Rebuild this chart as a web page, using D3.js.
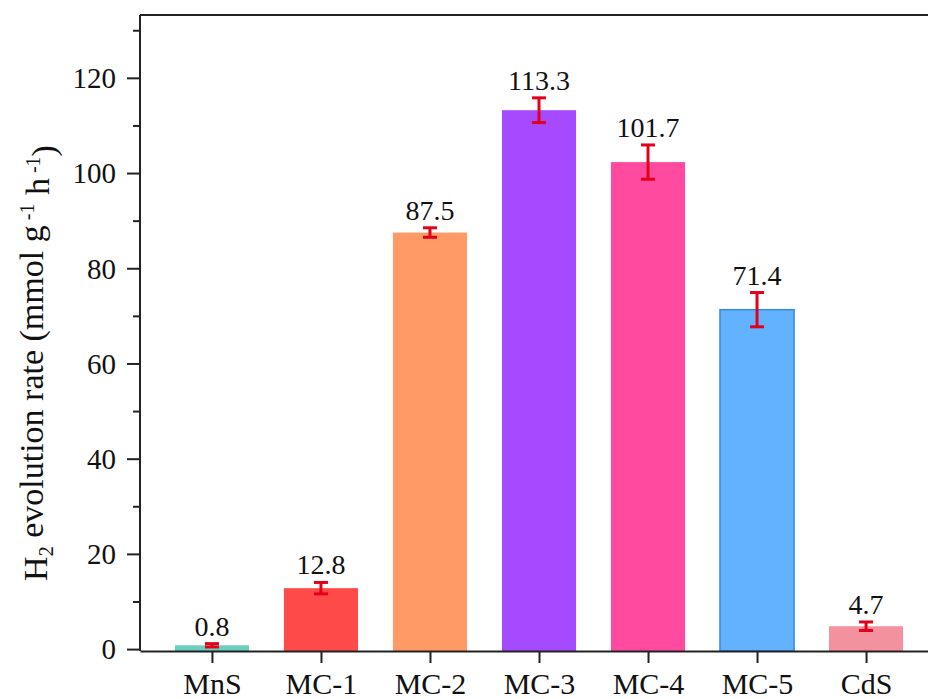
<!DOCTYPE html>
<html>
<head>
<meta charset="utf-8">
<script src="https://cdn.jsdelivr.net/npm/d3@7"></script>
<style>
    body { margin: 0; background: #fff; }
    svg text { font-family: "Liberation Serif", "Times New Roman", serif; fill: #111; }
</style>
</head>
<body>
<div id="chart"></div>
<script>
// data
const samples = ["MnS", "MC-1", "MC-2", "MC-3", "MC-4", "MC-5", "CdS"];
const rates = [0.8, 12.8, 87.5, 113.2, 102.3, 71.3, 4.8];
const rateLabels = ["0.8", "12.8", "87.5", "113.3", "101.7", "71.4", "4.7"];
const errors = [0.35, 1.2, 1.0, 2.6, 3.6, 3.6, 0.9];
const barColors = ["#6CCFBE", "#FF4A4A", "#FF9A66", "#A64AFF", "#FF4A9F", "#62B2FF", "#F4919E"];
const yTicks = [0, 20, 40, 60, 80, 100, 120];
const yMinorTicks = [10, 30, 50, 70, 90, 110, 130];

const W = 928, H = 699;
const margin = {top: 15, right: -10, bottom: 48, left: 140};
const width = W - margin.left - margin.right;
const height = H - margin.top - margin.bottom;

const svg = d3.select("#chart").append("svg")
    .attr("width", W)
    .attr("height", H)
    .append("g")
    .attr("transform", `translate(${margin.left},${margin.top})`);

// scales
const x = d3.scalePoint()
    .domain(samples)
    .range([0, width])
    .padding(0.66);

const y = d3.scaleLinear()
    .domain([-0.4, 133.2])
    .range([height, 0]);

const barW = x.step() * 0.68;

// bars
svg.selectAll(".bar")
    .data(samples)
    .enter()
    .append("rect")
    .attr("class", "bar")
    .attr("x", d => x(d) - barW / 2)
    .attr("y", (d, i) => y(rates[i]))
    .attr("width", barW)
    .attr("height", (d, i) => y(-0.4) - y(rates[i]))
    .attr("fill", (d, i) => barColors[i])
    .attr("stroke", (d, i) => d === "MC-5" ? "#3A8BDB" : "none")
    .attr("stroke-width", 1.5);

// error bars
const err = svg.selectAll(".err")
    .data(samples)
    .enter()
    .append("g")
    .attr("class", "err")
    .attr("stroke", "#E3001B")
    .attr("stroke-width", 3);

err.append("line")
    .attr("x1", d => x(d)).attr("x2", d => x(d))
    .attr("y1", (d, i) => y(rates[i] + errors[i]))
    .attr("y2", (d, i) => y(rates[i] - errors[i]));

err.append("line")
    .attr("x1", d => x(d) - 7).attr("x2", d => x(d) + 7)
    .attr("y1", (d, i) => y(rates[i] + errors[i]))
    .attr("y2", (d, i) => y(rates[i] + errors[i]));

err.append("line")
    .attr("x1", d => x(d) - 7).attr("x2", d => x(d) + 7)
    .attr("y1", (d, i) => y(rates[i] - errors[i]))
    .attr("y2", (d, i) => y(rates[i] - errors[i]));

// value labels
svg.selectAll(".val")
    .data(samples)
    .enter()
    .append("text")
    .attr("class", "val")
    .attr("x", d => x(d))
    .attr("y", (d, i) => y(rates[i] + errors[i]) - 8)
    .attr("text-anchor", "middle")
    .style("font-size", "28px")
    .text((d, i) => rateLabels[i]);

// frame (top + right)
svg.append("path")
    .attr("d", `M0,0 H${width} V${height}`)
    .attr("fill", "none")
    .attr("stroke", "#222")
    .attr("stroke-width", 2);

// axes
const yAxis = svg.append("g")
    .attr("class", "axis y-axis")
    .call(d3.axisLeft(y).tickValues(yTicks).tickSize(13).tickPadding(11).tickSizeOuter(0));

svg.append("g")
    .attr("class", "axis y-minor")
    .call(d3.axisLeft(y).tickValues(yMinorTicks).tickSize(7).tickFormat("").tickSizeOuter(0))
    .select(".domain").remove();

const xAxis = svg.append("g")
    .attr("class", "axis x-axis")
    .attr("transform", `translate(0,${height})`)
    .call(d3.axisBottom(x).tickSize(12).tickPadding(8).tickSizeOuter(0));

svg.selectAll(".axis path, .axis line")
    .attr("stroke", "#222")
    .attr("stroke-width", 2);

yAxis.selectAll("text").style("font-size", "29px").attr("dy", "0.34em");
xAxis.selectAll("text").style("font-size", "30px").attr("dy", "0.75em");
yAxis.select(".domain").attr("d", `M0,${y(-0.4)} V0`);

// y axis title
const title = svg.append("text")
    .attr("transform", `translate(${47 - margin.left},${363 - margin.top}) rotate(-90)`)
    .attr("text-anchor", "middle")
    .style("font-size", "34px");

title.append("tspan").text("H");
title.append("tspan").attr("dy", "0.3em").style("font-size", "20px").text("2");
title.append("tspan").attr("dy", "-0.3em").text(" evolution rate (mmol g");
title.append("tspan").attr("dy", "-0.45em").style("font-size", "20px").text(" -1");
title.append("tspan").attr("dy", "0.45em").text(" h");
title.append("tspan").attr("dy", "-0.45em").style("font-size", "20px").text(" -1");
title.append("tspan").attr("dy", "0.45em").text(")");
</script>
</body>
</html>
